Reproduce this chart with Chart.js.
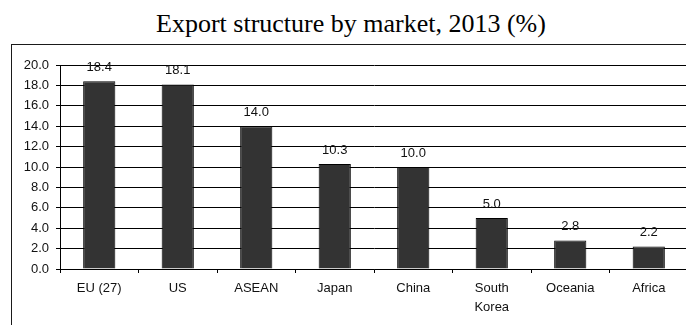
<!DOCTYPE html>
<html>
<head>
<meta charset="utf-8">
<script src="https://cdn.jsdelivr.net/npm/chart.js@4.4.1/dist/chart.umd.min.js"></script>
<style>
  html, body { margin: 0; padding: 0; overflow: hidden; background: #fff; }
  #wrap { position: relative; width: 686px; height: 325px; overflow: hidden; }
  #title {
    position: absolute; left: 0; top: 9px; width: 702px; text-align: center;
    font-family: 'Liberation Serif', 'Times New Roman', serif; font-size: 26px;
    line-height: 30px; color: #000; white-space: nowrap;
  }
  #frame {
    position: absolute; left: 11px; top: 44px; width: 800px; height: 400px;
    border: 1.5px solid #1a1a1a; box-sizing: border-box;
  }
  #exportChart { position: absolute; left: 0; top: 0; }
</style>
</head>
<body>
<div id="wrap">
  <div id="title">Export structure by market, 2013 (%)</div>
  <div id="frame"></div>
  <canvas id="exportChart"></canvas>
</div>
<script>
document.addEventListener('DOMContentLoaded', function () {
    // export shares by destination market, 2013
    const markets = ['EU (27)', 'US', 'ASEAN', 'Japan', 'China', ['South', 'Korea'], 'Oceania', 'Africa'];
    const shares = [18.4, 18.1, 14.0, 10.3, 10.0, 5.0, 2.8, 2.2];
    const yTicks = [0, 2, 4, 6, 8, 10, 12, 14, 16, 18, 20];

    const canvasWidth = 700;
    const canvasHeight = 325;
    const ctx = document.getElementById('exportChart');
    ctx.width = canvasWidth;
    ctx.height = canvasHeight;

    const tickFont = { family: 'Liberation Sans, Arial, sans-serif', size: 13 };

    // write the value over each bar
    const barValues = {
        id: 'barValues',
        afterDatasetsDraw(chart) {
            const c = chart.ctx;
            const meta = chart.getDatasetMeta(0);
            c.save();
            c.font = '13px Liberation Sans, Arial, sans-serif';
            c.fillStyle = '#111';
            c.textAlign = 'center';
            c.textBaseline = 'middle';
            meta.data.forEach((bar, i) => {
                c.fillText(shares[i].toFixed(1), bar.x, bar.y - 14);
            });
            c.restore();
        }
    };

    new Chart(ctx, {
        type: 'bar',
        data: {
            labels: markets,
            datasets: [{
                data: shares,
                backgroundColor: '#333333',
                borderColor: '#000000',
                borderWidth: 1,
                barPercentage: 0.41,
                categoryPercentage: 1,
            }],
        },
        options: {
            responsive: false,
            maintainAspectRatio: false,
            animation: false,
            layout: { padding: { left: 0, right: 12, top: 65, bottom: 0 } },
            scales: {
                x: {
                    afterFit: scale => { scale.height = canvasHeight - 269; },
                    grid: {
                        offset: true,
                        drawOnChartArea: false,
                        drawTicks: true,
                        tickLength: 4,
                        color: '#000',
                    },
                    border: { color: '#000', width: 1 },
                    ticks: {
                        color: '#111',
                        font: { ...tickFont, lineHeight: 1.45 },
                        padding: 6,
                        maxRotation: 0,
                        autoSkip: false,
                    },
                },
                y: {
                    min: 0,
                    max: 20,
                    afterFit: scale => { scale.width = 60; },
                    afterBuildTicks: scale => { scale.ticks = yTicks.map(v => ({ value: v })); },
                    grid: { color: '#000', lineWidth: 1, tickLength: 4 },
                    border: { color: '#000', width: 1 },
                    ticks: {
                        color: '#111',
                        font: tickFont,
                        padding: 7,
                        callback: value => value.toFixed(1),
                    },
                },
            },
            plugins: {
                legend: { display: false },
                tooltip: { enabled: false },
            },
        },
        plugins: [barValues],
    });
});
</script>
</body>
</html>
